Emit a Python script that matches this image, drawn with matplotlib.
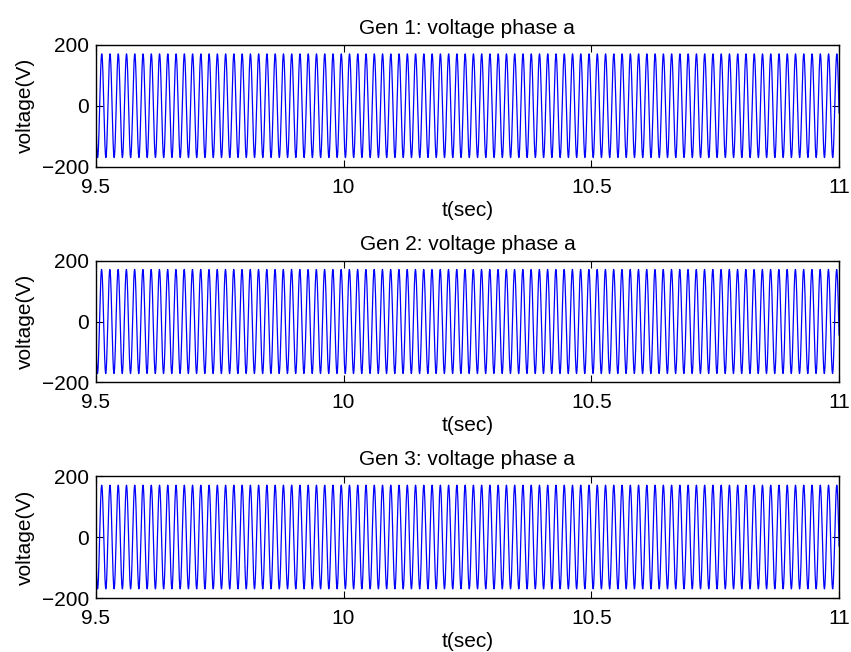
import numpy as np
import matplotlib
matplotlib.use("Agg")
import matplotlib.pyplot as plt

plt.rcParams['font.family'] = ['Liberation Sans', 'DejaVu Sans']

# Data
titles = ["Gen 1: voltage phase a", "Gen 2: voltage phase a", "Gen 3: voltage phase a"]
amplitudes = [170.0, 172.0, 170.0]        # peak voltage (V)
frequencies = [60.0, 60.0, 60.0]          # Hz
phase_deg = [-172.0, -165.0, -170.0]      # phase at t = 0
t_start, t_end = 9.5, 11.0
xticks = [9.5, 10, 10.5, 11]
xticklabels = ["9.5", "10", "10.5", "11"]
yticks = [-200, 0, 200]
yticklabels = ["\u2212200", "0", "200"]

fig = plt.figure(figsize=(8.51, 6.52), dpi=100)
positions = [
    [0.1125, 0.7443, 0.8735, 0.1871],
    [0.1125, 0.4141, 0.8735, 0.1856],
    [0.1125, 0.0828, 0.8735, 0.1871],
]

FS = 15
t = np.linspace(t_start, t_end, 15001)
for i in range(3):
    ax = fig.add_axes(positions[i])
    v = amplitudes[i] * np.sin(2 * np.pi * frequencies[i] * t + np.deg2rad(phase_deg[i]))
    ax.plot(t, v, color=(0, 0, 1), lw=0.9)
    ax.set_xlim(t_start, t_end)
    ax.set_ylim(-200, 200)
    ax.set_xticks(xticks)
    ax.set_xticklabels(xticklabels)
    ax.set_yticks(yticks)
    ax.set_yticklabels(yticklabels)
    ax.tick_params(direction='in', length=5, width=0.8, top=True, right=True,
                   labelsize=FS)
    ax.tick_params(axis='x', pad=8)
    ax.tick_params(axis='y', pad=5)
    for s in ax.spines.values():
        s.set_linewidth(1.0)
    ax.set_title(titles[i], fontsize=FS, pad=8)
    ax.set_xlabel("t(sec)", fontsize=FS, labelpad=3)
    ax.set_ylabel("voltage(V)", fontsize=FS, labelpad=5)

fig.savefig("out.png", dpi=100)
